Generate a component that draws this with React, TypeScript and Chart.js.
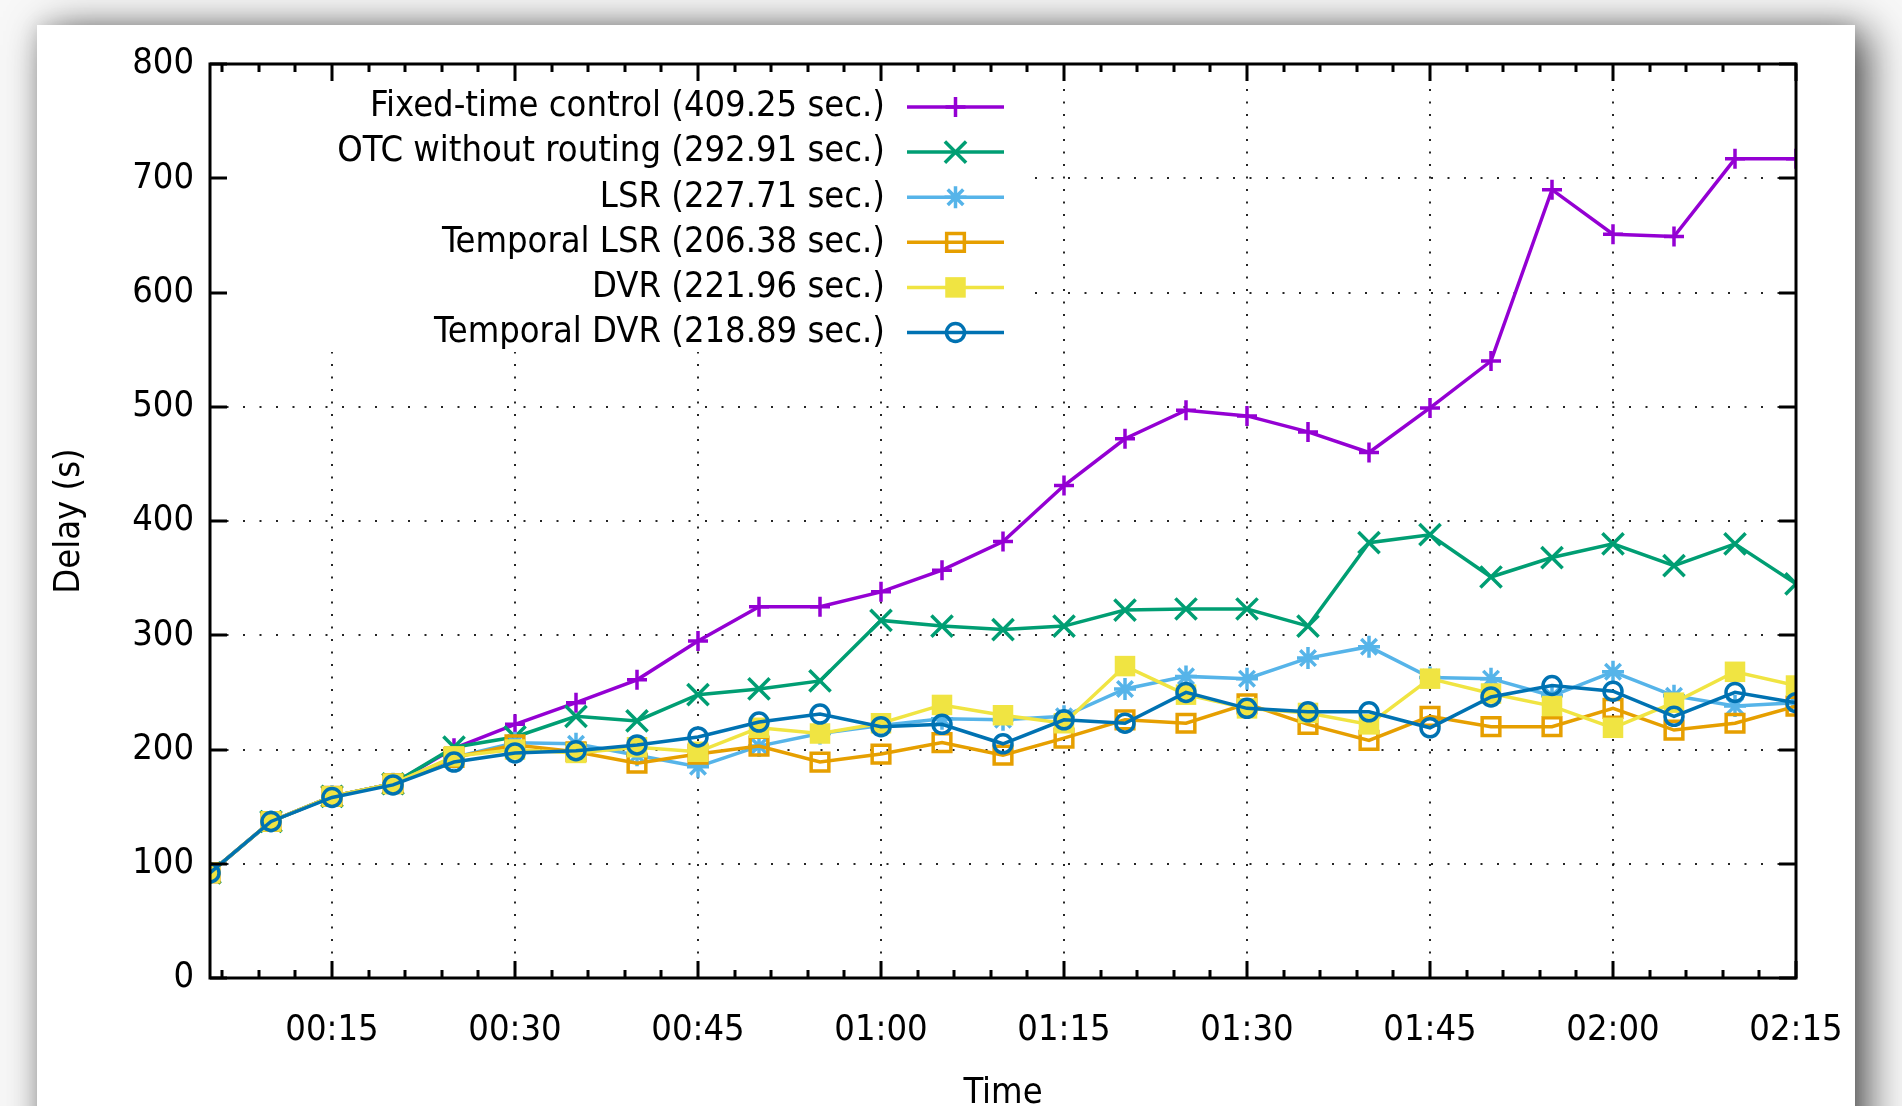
import React, { useEffect, useRef } from 'react';
import { Chart, registerables } from 'chart.js';
import { drawPoint } from 'chart.js/helpers';

Chart.register(...registerables);

// ---------- data ----------
const minutes = [5, 10, 15, 20, 25, 30, 35, 40, 45, 50, 55, 60, 65, 70, 75, 80, 85, 90, 95, 100, 105, 110, 115, 120, 125, 130, 135];

const fixedTime = [92, 137, 159, 170, 201, 222, 241, 261, 295, 325, 325, 338, 357, 382, 431, 472, 497, 492, 478, 460, 499, 540, 690, 651, 649, 717, 717];
const otcNoRouting = [92, 137, 159, 170, 202, 211, 229, 225, 248, 253, 260, 313, 308, 305, 308, 322, 323, 323, 308, 381, 388, 351, 368, 380, 361, 380, 345];
const lsr = [92, 137, 159, 170, 193, 206, 205, 195, 185, 203, 214, 221, 227, 226, 229, 253, 264, 262, 280, 290, 263, 262, 247, 268, 247, 238, 241];
const temporalLsr = [92, 137, 159, 170, 193, 204, 198, 188, 196, 203, 189, 196, 206, 195, 210, 226, 223, 240, 222, 208, 229, 220, 220, 236, 217, 223, 238];
const dvr = [92, 137, 159, 170, 194, 200, 197, 202, 198, 219, 214, 223, 239, 230, 223, 273, 248, 236, 232, 222, 262, 249, 238, 219, 241, 268, 256];
const temporalDvr = [92, 137, 158, 169, 189, 197, 199, 204, 211, 224, 231, 220, 222, 205, 226, 223, 250, 236, 233, 233, 219, 246, 256, 251, 229, 250, 241];

const seriesLabels = [
  'Fixed-time control (409.25 sec.)',
  'OTC without routing (292.91 sec.)',
  'LSR (227.71 sec.)',
  'Temporal LSR (206.38 sec.)',
  'DVR (221.96 sec.)',
  'Temporal DVR (218.89 sec.)',
];
const seriesValues = [fixedTime, otcNoRouting, lsr, temporalLsr, dvr, temporalDvr];

const xTickValues = [15, 30, 45, 60, 75, 90, 105, 120, 135];
const xTickLabels = ['00:15', '00:30', '00:45', '01:00', '01:15', '01:30', '01:45', '02:00', '02:15'];
const xMinorStep = 3;
const yTickValues = [0, 100, 200, 300, 400, 500, 600, 700, 800];

// ---------- styles ----------
const FONT = "'DejaVu Sans Condensed', 'DejaVu Sans', sans-serif";
const LINE_W = 3.5;
const seriesStyles = [
  { color: '#9400d3', pointStyle: 'cross', radius: 10, fill: 'rgba(0,0,0,0)', pbw: 3.5 },
  { color: '#009e73', pointStyle: 'crossRot', radius: 15, fill: 'rgba(0,0,0,0)', pbw: 3.5 },
  { color: '#56b4e9', pointStyle: 'star', radius: 11, fill: 'rgba(0,0,0,0)', pbw: 3.5 },
  { color: '#e69f00', pointStyle: 'rect', radius: 12.5, fill: 'rgba(0,0,0,0)', pbw: 3.5 },
  { color: '#f0e442', pointStyle: 'rect', radius: 14.5, fill: '#f0e442', pbw: 0 },
  { color: '#0072b2', pointStyle: 'circle', radius: 9, fill: 'rgba(0,0,0,0)', pbw: 3.5 },
];

const CANVAS_W = 1818;
const CANVAS_H = 1081;

const KEY = {
  boxRight: 988,
  boxBottom: 327,
  textRight: 848,
  firstY: 82,
  step: 45.1,
  lineX0: 870,
  lineX1: 967,
};

const gnuplotDecor = {
  id: 'gnuplotDecor',
  beforeDatasetsDraw(chart: any) {
    const { ctx, chartArea: a } = chart;
    ctx.save();
    ctx.fillStyle = '#ffffff';
    ctx.fillRect(a.left + 2, a.top + 2, KEY.boxRight - a.left - 2, KEY.boxBottom - a.top - 2);
    ctx.restore();
  },
  afterDatasetsDraw(chart: any) {
    const { ctx, chartArea: a } = chart;
    const xs = chart.scales.x;
    const ys = chart.scales.y;
    ctx.save();
    // key
    ctx.font = `36px ${FONT}`;
    ctx.textAlign = 'right';
    ctx.textBaseline = 'middle';
    chart.data.datasets.forEach((ds: any, i: number) => {
      const y = KEY.firstY + i * KEY.step;
      ctx.fillStyle = '#000';
      ctx.fillText(ds.label, KEY.textRight, y);
      ctx.strokeStyle = ds.borderColor;
      ctx.lineWidth = ds.borderWidth;
      ctx.setLineDash([]);
      ctx.beginPath();
      ctx.moveTo(KEY.lineX0, y);
      ctx.lineTo(KEY.lineX1, y);
      ctx.stroke();
      ctx.fillStyle = ds.pointBackgroundColor;
      ctx.strokeStyle = ds.pointBorderColor;
      ctx.lineWidth = ds.pointBorderWidth;
      drawPoint(ctx, { pointStyle: ds.pointStyle, radius: ds.pointRadius, rotation: 0, borderWidth: ds.pointBorderWidth } as any, (KEY.lineX0 + KEY.lineX1) / 2, y);
    });

    // border and ticks (inward, mirrored)
    ctx.strokeStyle = '#000';
    ctx.lineWidth = 3;
    ctx.beginPath();
    const xmin = xs.min, xmax = xs.max;
    for (let v = Math.ceil(xmin / xMinorStep) * xMinorStep; v <= xmax; v += xMinorStep) {
      const isMajor = xTickValues.includes(v);
      const len = isMajor ? 17 : 8;
      const px = Math.round(xs.getPixelForValue(v));
      ctx.moveTo(px, a.bottom);
      ctx.lineTo(px, a.bottom - len);
      ctx.moveTo(px, a.top);
      ctx.lineTo(px, a.top + len);
    }
    yTickValues.forEach((v) => {
      const py = Math.round(ys.getPixelForValue(v));
      ctx.moveTo(a.left, py);
      ctx.lineTo(a.left + 17, py);
      ctx.moveTo(a.right, py);
      ctx.lineTo(a.right - 17, py);
    });
    ctx.stroke();
    ctx.strokeRect(a.left, a.top, a.right - a.left, a.bottom - a.top);
    ctx.restore();
  },
};

export default function App() {
  const ref = useRef<HTMLCanvasElement | null>(null);

  useEffect(() => {
    if (!ref.current) return;
    const datasets = seriesValues.map((vals, i) => {
      const s = seriesStyles[i];
      return {
        label: seriesLabels[i],
        data: minutes.map((m, j) => ({ x: m, y: vals[j] })),
        borderColor: s.color,
        backgroundColor: s.fill,
        borderWidth: LINE_W,
        pointStyle: s.pointStyle,
        pointRadius: s.radius,
        pointBorderWidth: s.pbw,
        pointBorderColor: s.color,
        pointBackgroundColor: s.fill,
        tension: 0,
        fill: false,
        order: seriesValues.length - i,
      };
    });

    const chart = new Chart(ref.current, {
      type: 'line',
      data: { datasets },
      plugins: [gnuplotDecor],
      options: {
        animation: false,
        responsive: false,
        events: [],
        layout: { padding: { top: 39, right: 59, left: 0, bottom: 0 } },
        plugins: { legend: { display: false }, tooltip: { enabled: false } },
        scales: {
          x: {
            type: 'linear',
            min: 5,
            max: 135,
            afterBuildTicks: (scale: any) => {
              scale.ticks = xTickValues.map((v) => ({ value: v }));
            },
            afterFit: (scale: any) => {
              scale.height = 128;
              scale.paddingLeft = 0;
              scale.paddingRight = 0;
            },
            ticks: {
              autoSkip: false,
              maxRotation: 0,
              padding: 31,
              color: '#000',
              font: { family: FONT, size: 36 },
              callback: (v: any) => {
                const idx = xTickValues.indexOf(Number(v));
                return idx >= 0 ? xTickLabels[idx] : '';
              },
            },
            grid: {
              drawTicks: false,
              color: 'rgba(0,0,0,0.85)',
              lineWidth: 2,
            },
            border: { display: false, dash: [2, 10.5] },
            title: {
              display: true,
              text: 'Time',
              color: '#000',
              font: { family: FONT, size: 36, lineHeight: 0.7 },
              padding: { top: 0, bottom: 0 },
            },
          },
          y: {
            type: 'linear',
            min: 0,
            max: 800,
            afterBuildTicks: (scale: any) => {
              scale.ticks = yTickValues.map((v) => ({ value: v }));
            },
            afterFit: (scale: any) => {
              scale.width = 173;
              scale.paddingTop = 0;
              scale.paddingBottom = 0;
            },
            ticks: {
              padding: 16,
              color: '#000',
              font: { family: FONT, size: 36 },
            },
            grid: {
              drawTicks: false,
              color: 'rgba(0,0,0,0.85)',
              lineWidth: 2,
            },
            border: { display: false, dash: [2, 14.5] },
            title: {
              display: true,
              text: 'Delay (s)',
              color: '#000',
              font: { family: FONT, size: 36 },
              padding: { top: 11, bottom: 0 },
            },
          },
        },
      } as any,
    });
    return () => chart.destroy();
  }, []);

  return (
    <div style={{ position: 'fixed', inset: 0, background: '#f8f8f8', overflow: 'hidden' }}>
      <div
        style={{
          position: 'absolute',
          left: 37,
          top: 25,
          width: CANVAS_W,
          height: 1200,
          background: '#ffffff',
          boxShadow: '12px 6px 40px rgba(0,0,0,0.7), 0 0 18px rgba(0,0,0,0.10)',
        }}
      >
        <canvas ref={ref} width={CANVAS_W} height={CANVAS_H} style={{ display: 'block' }} />
      </div>
    </div>
  );
}
